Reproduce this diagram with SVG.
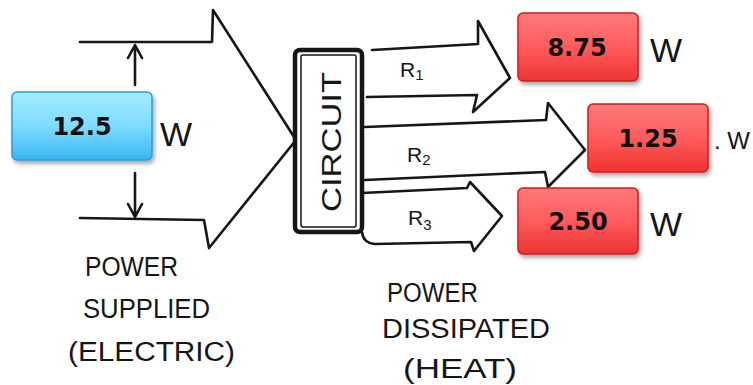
<svg xmlns="http://www.w3.org/2000/svg" width="753" height="385" viewBox="0 0 753 385">
<style>
.ln{fill:none;stroke:#161616;stroke-width:2.6;stroke-linejoin:round;stroke-linecap:round}
.hw{font-family:"Liberation Sans",Arial,sans-serif;fill:#161616;font-weight:normal}
.num{font-family:"DejaVu Sans",Verdana,sans-serif;font-weight:bold;font-size:24px;fill:#111;text-anchor:middle}
.blue{fill:url(#gBlue);stroke:#2a9fdc;stroke-width:1.5}
.red{fill:url(#gRed);stroke:#d21c1c;stroke-width:1.5}
</style>
<defs>
<linearGradient id="gBlue" x1="0" y1="0" x2="0" y2="1">
<stop offset="0" stop-color="#a4ecff"/><stop offset="0.5" stop-color="#7fdcff"/><stop offset="1" stop-color="#38b6f2"/>
</linearGradient>
<linearGradient id="gRed" x1="0" y1="0" x2="0" y2="1">
<stop offset="0" stop-color="#ff7a7a"/><stop offset="0.5" stop-color="#ff5c5c"/><stop offset="1" stop-color="#ee3232"/>
</linearGradient>
<filter id="sh" x="-10%" y="-10%" width="130%" height="140%">
<feDropShadow dx="2" dy="3" stdDeviation="2" flood-color="#000" flood-opacity="0.35"/>
</filter>
</defs>
<rect width="753" height="385" fill="#fff"/>
<g id="connectors">
<path class="ln" d="M80,42 L212,42 L213,10 L296,140 L209,248 L204,220 L80,218"/>
<path class="ln" d="M135,85 L135,46 M128,58 L135,45 L142,58"/>
<path class="ln" d="M135,173 L135,216 M128,204 L135,217 L142,204"/>
<path class="ln" d="M372,50 L478,44 L478,21 L510,78 L473,112 L477,95 L367,97"/>
<path class="ln" d="M365,127 L546,120 L548,103 L585,150 L548,187 L545,172 L365,180"/>
<path class="ln" d="M362,193 L467,188 L470,182 L502,216 L474,251 L471,242 L375,244 Q363,243 362,232"/>
</g>
<g id="circuit">
<rect x="295" y="50" width="67" height="182" rx="5" fill="#fff" stroke="#161616" stroke-width="4.5"/>
<rect x="301" y="55" width="55" height="172" rx="2" fill="none" stroke="#161616" stroke-width="1.5"/>
<text class="hw" font-size="28" transform="translate(341,142) rotate(-90)" text-anchor="middle" textLength="140" lengthAdjust="spacingAndGlyphs">CIRCUIT</text>
</g>
<g id="supply">
<rect class="blue" x="12" y="92" width="140" height="68" rx="5" filter="url(#sh)"/>
<text class="num" x="82" y="135">12.5</text>
<text class="hw" x="160" y="146" font-size="34">W</text>
</g>
<g id="r1">
<rect class="red" x="518" y="13" width="120" height="68" rx="5" filter="url(#sh)"/>
<text class="num" x="577" y="56">8.75</text>
<text class="hw" x="650" y="62" font-size="34">W</text>
</g>
<g id="r2">
<rect class="red" x="588" y="104" width="120" height="68" rx="5" filter="url(#sh)"/>
<text class="num" x="648" y="147">1.25</text>
<text class="hw" x="714" y="149" font-size="24">. W</text>
</g>
<g id="r3">
<rect class="red" x="518" y="188" width="120" height="66" rx="5" filter="url(#sh)"/>
<text class="num" x="578" y="230">2.50</text>
<text class="hw" x="650" y="236" font-size="34">W</text>
</g>
<g id="labels">
<text class="hw" x="400" y="77" font-size="21">R<tspan font-size="15" dy="3">1</tspan></text>
<text class="hw" x="407" y="162" font-size="21">R<tspan font-size="15" dy="3">2</tspan></text>
<text class="hw" x="408" y="225" font-size="21">R<tspan font-size="15" dy="5">3</tspan></text>
<text class="hw" x="85" y="276" font-size="27" textLength="93" lengthAdjust="spacingAndGlyphs">POWER</text>
<text class="hw" x="83" y="318" font-size="27" textLength="127" lengthAdjust="spacingAndGlyphs">SUPPLIED</text>
<text class="hw" x="68" y="361" font-size="27" textLength="167" lengthAdjust="spacingAndGlyphs">(ELECTRIC)</text>
<text class="hw" x="387" y="302" font-size="27" textLength="91" lengthAdjust="spacingAndGlyphs">POWER</text>
<text class="hw" x="382" y="338" font-size="27" textLength="168" lengthAdjust="spacingAndGlyphs">DISSIPATED</text>
<text class="hw" x="403" y="378" font-size="27" textLength="114" lengthAdjust="spacingAndGlyphs">(HEAT)</text>
</g>
</svg>
